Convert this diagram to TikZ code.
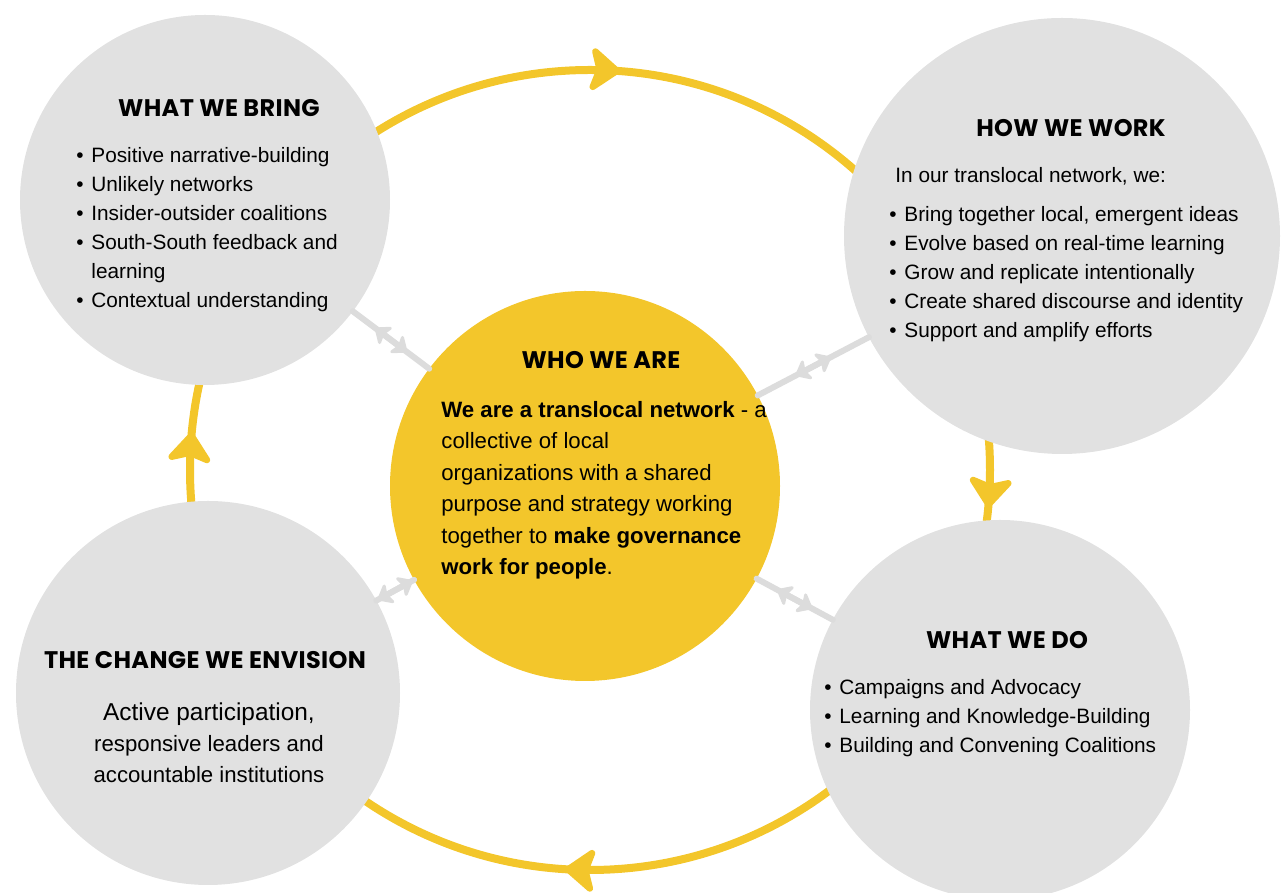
\documentclass[tikz,border=0pt]{standalone}
\usepackage{fontspec}
\setmainfont{Liberation Sans}
\newfontfamily\headfont[LetterSpace=1.5]{Poppins}
\usetikzlibrary{arrows.meta,decorations.markings}
\definecolor{ringyellow}{HTML}{F3C62B}
\definecolor{discgray}{HTML}{E1E1E1}
\definecolor{linkgray}{HTML}{DCDCDC}

\newcommand{\itm}{\makebox[7.5pt][l]{\textbullet}}
\newcommand{\cnt}{\hspace*{7.5pt}}

\tikzset{
  ringhead/.tip={Stealth[length=17pt, width=26pt, inset=4pt, round]},
  linkhead/.tip={Stealth[length=8pt, width=13pt, inset=2pt, round]},
  disc/.style={circle, fill=discgray, inner sep=0pt, outer sep=0pt},
  ring/.style={ringyellow, line width=4pt, line cap=round, postaction={decorate},
    decoration={markings,
      mark=at position 0.012 with {\arrow{ringhead}},
      mark=at position 0.265 with {\arrow{ringhead}},
      mark=at position 0.51 with {\arrow{ringhead}},
      mark=at position 0.765 with {\arrow{ringhead}}}},
  twoway/.style={linkgray, line width=3pt, line cap=round, postaction={decorate},
    decoration={markings,
      mark=at position 0.5 with {\draw [linkgray, line width=3pt, {linkhead}-{linkhead}] (-10pt,0pt) -- (10pt,0pt);}}},
  head/.style={font=\headfont\bfseries\fontsize{12}{14}\selectfont, inner sep=0pt},
  list/.style={anchor=north west, align=left, inner sep=0pt, font=\fontsize{10.4}{14.5}\selectfont},
  body/.style={inner sep=0pt, font=\fontsize{11.1}{15.7}\selectfont}
}

\begin{document}
\begin{tikzpicture}[x=0.5pt,y=0.5pt]
  \useasboundingbox (0,0) rectangle (1281,893);

  % the yellow loop, clockwise
  \draw [ring] (590,823) arc [start angle=90, end angle=-270, radius=400];

  % circles
  \node [disc, minimum size=185pt] (bring) at (205,693) {};
  \node [disc, minimum size=218pt] (work) at (1062,657) {};
  \node [disc, minimum size=190pt] (do) at (1000,183) {};
  \node [disc, minimum size=192pt] (change) at (208,200) {};
  \node [disc, fill=ringyellow, minimum size=195pt] (who) at (585,407) {};

  % links to the middle
  \draw [twoway] (who) -- (bring);
  \draw [twoway] (who) -- (work);
  \draw [twoway] (who) -- (do);
  \draw [twoway] (who) -- (change);

  % what we bring
  \node [head] (bringhead) at (219,785) {WHAT WE BRING};
  \node [list] (bringlist) at (76,746) {%
    \itm Positive narrative-building\\
    \itm Unlikely networks\\
    \itm Insider-outsider coalitions\\
    \itm South-South feedback and\\
    \cnt learning\\
    \itm Contextual understanding};

  % how we work
  \node [head] (workhead) at (1071,765) {HOW WE WORK};
  \node [list] (workintro) at (895,726) {In our translocal network, we:};
  \node [list] (worklist) at (889,687) {%
    \itm Bring together local, emergent ideas\\
    \itm Evolve based on real-time learning\\
    \itm Grow and replicate intentionally\\
    \itm Create shared discourse and identity\\
    \itm Support and amplify efforts};

  % what we do
  \node [head] (dohead) at (1007,253) {WHAT WE DO};
  \node [list] (dolist) at (824,214) {%
    \itm Campaigns and Advocacy\\
    \itm Learning and Knowledge-Building\\
    \itm Building and Convening Coalitions};

  % the change we envision
  \node [head] (changehead) at (205,233) {THE CHANGE WE ENVISION};
  \node [body, anchor=north, align=center] (changetext) at (209,191) {%
    \fontsize{12.2}{15.6}\selectfont
    Active participation,\\
    responsive leaders and\\
    accountable institutions};

  % who we are
  \node [head] (whohead) at (601,533) {WHO WE ARE};
  \node [body, anchor=north west, align=left] (whotext) at (441,492) {%
    \textbf{We are a translocal network} - a\\
    collective of local\\
    organizations with a shared\\
    purpose and strategy working\\
    together to \textbf{make governance}\\
    \textbf{work for people}.};
\end{tikzpicture}
\end{document}
